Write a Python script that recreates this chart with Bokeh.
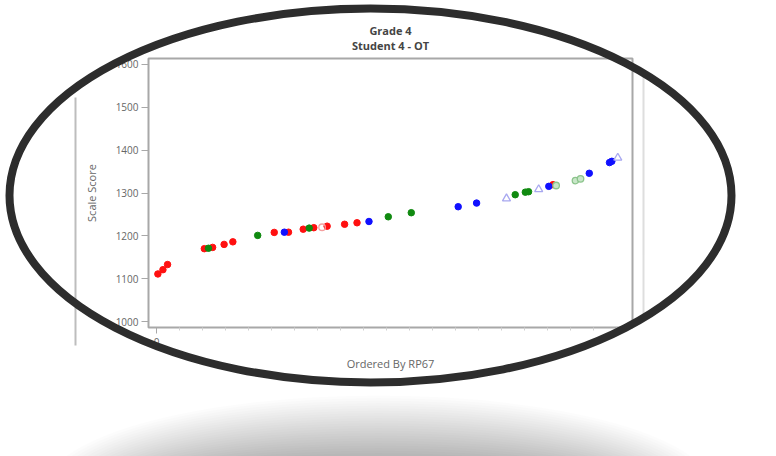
import numpy as np
from bokeh.plotting import figure
from bokeh.models import FixedTicker, Range1d
from bokeh.core.properties import value
from bokeh.embed import file_html
from bokeh.resources import INLINE

# ---- data ----
red_x = [0.3, 1.4, 2.4, 10.4, 12.2, 14.7, 16.6, 25.6, 28.7, 31.9, 34.2, 37.1, 40.9, 43.6, 86.2]
red_y = [1111, 1121, 1133, 1170, 1173, 1180, 1186, 1208, 1208.5, 1215.5, 1219, 1222.5, 1227, 1230.5, 1319.5]
green_x = [11.3, 22.0, 33.2, 50.4, 55.4, 78.0, 80.2, 80.9]
green_y = [1171, 1201, 1218, 1244.5, 1254, 1296, 1302, 1303]
blue_x = [27.8, 46.2, 65.6, 69.6, 85.3, 94.1, 98.5, 99.0]
blue_y = [1208.5, 1233.5, 1268, 1276.5, 1315.5, 1346, 1371, 1374]
tri_x = [76.1, 83.1, 100.3]
tri_y = [1287, 1308.5, 1382]
pink_x = [36.0]
pink_y = [1220]
lgreen_x = [86.9, 91.1, 92.2]
lgreen_y = [1317.5, 1329, 1333]

y_ticks = [1000, 1100, 1200, 1300, 1400, 1500, 1600]
x_ticks = [0]
title_lines = ["Grade 4", "Student 4 - OT"]

W, H = 776, 456
FONT = "Open Sans"

# ================= chart =================
p = figure(width=W, height=H, output_backend="svg", toolbar_location=None,
           x_range=Range1d(-1.74, 103.5), y_range=Range1d(986, 1614),
           min_border_left=148, min_border_right=144, min_border_top=58,
           min_border_bottom=129)
p.background_fill_color = "white"
p.border_fill_color = "white"
p.outline_line_color = "#a8a8a8"
p.outline_line_width = 2
p.grid.visible = False

ya = p.yaxis[0]
ya.ticker = FixedTicker(ticks=y_ticks)
ya.axis_label = "Scale Score"
ya.axis_label_text_font = FONT
ya.axis_label_text_font_style = "normal"
ya.axis_label_text_font_size = "11px"
ya.axis_label_text_color = "#666666"
ya.axis_label_standoff = 14
ya.major_label_text_font = FONT
ya.major_label_text_font_size = "10px"
ya.major_label_text_color = "#666666"
ya.axis_line_color = "#a8a8a8"
ya.major_tick_line_color = "#a8a8a8"
ya.major_tick_out = 7
ya.major_tick_in = 0
ya.minor_tick_line_color = None
ya.major_label_standoff = 3

xa = p.xaxis[0]
xa.ticker = FixedTicker(ticks=x_ticks, minor_ticks=list(np.arange(5, 104, 5)))
xa.axis_label = "Ordered By RP67"
xa.axis_label_text_font = FONT
xa.axis_label_text_font_style = "normal"
xa.axis_label_text_font_size = "11px"
xa.axis_label_text_color = "#666666"
xa.axis_label_standoff = 7
xa.major_label_text_font = FONT
xa.major_label_text_font_size = "10px"
xa.major_label_text_color = "#666666"
xa.axis_line_color = "#a8a8a8"
xa.major_tick_line_color = "#a8a8a8"
xa.major_tick_out = 6
xa.major_tick_in = 0
xa.minor_tick_line_color = "#d0d0d0"
xa.minor_tick_out = 3
xa.minor_tick_in = 0
xa.major_label_standoff = 4

S = 6.5
p.scatter(red_x, red_y, marker="circle", size=S, fill_color="#ff1010", line_color="#ff1010")
p.scatter(green_x, green_y, marker="circle", size=S, fill_color="#108a10", line_color="#108a10")
p.scatter(blue_x, blue_y, marker="circle", size=S, fill_color="#1010ff", line_color="#1010ff")
p.scatter(tri_x, tri_y, marker="triangle", size=S + 1.5, fill_color=None, line_color="#a8a8f0", line_width=1.3)
p.scatter(pink_x, pink_y, marker="circle", size=S, fill_color=None, line_color="#f4a0a0", line_width=1.3)
p.scatter(lgreen_x, lgreen_y, marker="circle", size=S, fill_color="#c8e6c8", line_color="#8cc48c", line_width=1.3)

# ================= decoration overlay (pixel coordinates, y down) =================
d = figure(width=W, height=H, output_backend="svg", toolbar_location=None,
           x_range=Range1d(0, W), y_range=Range1d(H, 0),
           x_axis_location=None, y_axis_location=None, min_border=0)
d.background_fill_alpha = 0
d.border_fill_alpha = 0
d.outline_line_color = None
d.grid.visible = False
d.margin = (-H, 0, 0, 0)

# titles
d.text(x=[390, 390], y=[30, 45], text=title_lines, text_align="center",
       text_baseline="middle", text_font=value(FONT), text_font_size="11px",
       text_font_style="bold", text_color="#444444")

# side lines
d.segment(x0=[75, 643], y0=[97, 70], x1=[75, 643], y1=[345, 320],
          line_color=["#bdbdbd", "#dedede"], line_width=2)

# soft shadow below the ring (stacked translucent ellipses)
n = 24
for k in range(n):
    d.ellipse(x=378, y=490, width=2 * (335 - k * 4), height=2 * (95 - k * 2.5),
              fill_color="#000000", fill_alpha=0.01, line_color=None)

# ring
d.ellipse(x=370, y=195, width=722, height=374, fill_alpha=0,
          line_color="#2d2d2d", line_width=8)

open("out.html", "w").write(file_html([p, d], INLINE))
